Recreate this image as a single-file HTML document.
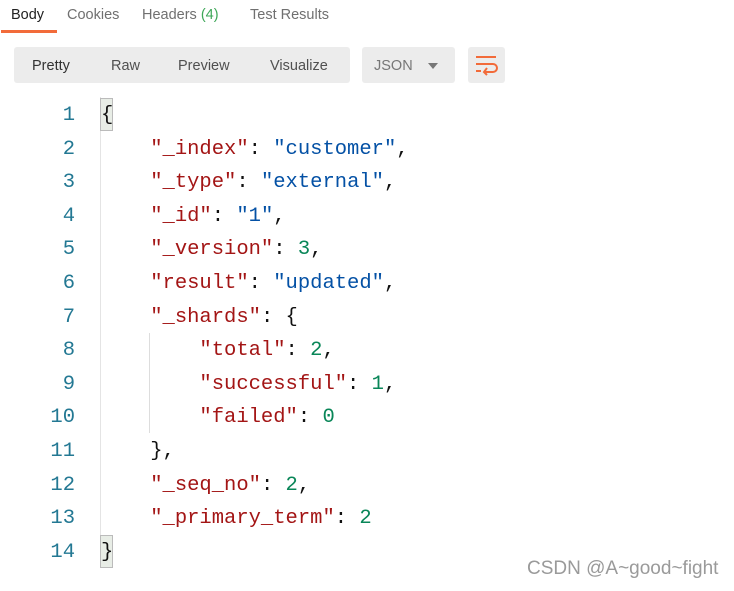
<!DOCTYPE html><html><head><style>
body{margin:0;width:734px;height:591px;background:#fff;position:relative;overflow:hidden;font-family:"Liberation Sans",sans-serif}
.a{position:absolute;white-space:pre}
.tab{font-size:14.5px;color:#707070;top:7px}
.btn{font-size:14.5px;color:#505050;top:58px}
.code{font-family:"Liberation Mono",monospace;font-size:20.5px;line-height:33.6px}
.k{color:#a31515}.s{color:#0451a5}.n{color:#098658}.p{color:#111}
.ln{color:#237893;text-align:right;width:40px;left:35px}
</style></head><body>
<div class="a tab" style="left:11px;color:#222">Body</div>
<div class="a tab" style="left:67px">Cookies</div>
<div class="a tab" style="left:142px">Headers <span style="color:#3ea758">(4)</span></div>
<div class="a tab" style="left:250px">Test Results</div>
<div class="a" style="left:1px;top:30px;width:56px;height:3px;background:#f26b3a"></div>
<div class="a" style="left:14px;top:47px;width:336px;height:36px;background:#ececec;border-radius:3px"></div>
<div class="a" style="left:362px;top:47px;width:93px;height:36px;background:#ececec;border-radius:3px"></div>
<div class="a" style="left:468px;top:47px;width:37px;height:36px;background:#ececec;border-radius:3px"></div>
<div class="a btn" style="left:32px;color:#333">Pretty</div>
<div class="a btn" style="left:111px">Raw</div>
<div class="a btn" style="left:178px">Preview</div>
<div class="a btn" style="left:270px">Visualize</div>
<div class="a btn" style="left:374px;color:#777">JSON</div>
<div class="a" style="left:428px;top:63px;border-left:5px solid transparent;border-right:5px solid transparent;border-top:6px solid #777"></div>
<svg class="a" style="left:474px;top:54px" width="26" height="22"><path d="M2 3H22M2 10H19a4 4 0 0 1 0 8H11M2 17H7" stroke="#f26b3a" stroke-width="2" fill="none"/><path d="M13 14l-3 4 3 3" stroke="#f26b3a" stroke-width="2" fill="none"/></svg>
<div class="a" style="left:100px;top:97px;width:1px;height:470px;background:#e4e4e4"></div>
<div class="a" style="left:100px;top:98px;width:11px;height:31px;background:#e8ede6;border:1px solid #bbb"></div>
<div class="a" style="left:100px;top:535px;width:11px;height:31px;background:#e8ede6;border:1px solid #bbb"></div>
<div class="a" style="left:149px;top:333px;width:1px;height:100px;background:#ddd"></div>
<div class="a code ln" style="top:99px">1
2
3
4
5
6
7
8
9
10
11
12
13
14</div>
<div class="a code p" style="left:101px;top:99px">{
    <span class="k">"_index"</span>: <span class="s">"customer"</span>,
    <span class="k">"_type"</span>: <span class="s">"external"</span>,
    <span class="k">"_id"</span>: <span class="s">"1"</span>,
    <span class="k">"_version"</span>: <span class="n">3</span>,
    <span class="k">"result"</span>: <span class="s">"updated"</span>,
    <span class="k">"_shards"</span>: {
        <span class="k">"total"</span>: <span class="n">2</span>,
        <span class="k">"successful"</span>: <span class="n">1</span>,
        <span class="k">"failed"</span>: <span class="n">0</span>
    },
    <span class="k">"_seq_no"</span>: <span class="n">2</span>,
    <span class="k">"_primary_term"</span>: <span class="n">2</span>
}</div>
<div class="a" style="left:527px;top:558px;font-size:19px;color:#9a9a9a">CSDN @A~good~fight</div>
</body></html>
